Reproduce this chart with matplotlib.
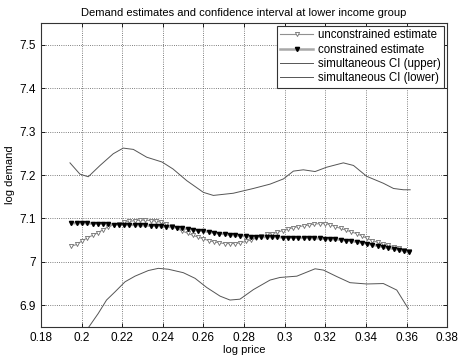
import matplotlib
matplotlib.use("Agg")
import matplotlib.pyplot as plt

plt.rcParams['font.family'] = ['Liberation Sans', 'DejaVu Sans']

# estimate grid
x_est = [0.1950, 0.1976, 0.2002, 0.2028, 0.2054, 0.2080, 0.2106, 0.2132, 0.2158, 0.2184,
         0.2210, 0.2236, 0.2262, 0.2288, 0.2314, 0.2340, 0.2366, 0.2392, 0.2418, 0.2444,
         0.2470, 0.2496, 0.2522, 0.2548, 0.2574, 0.2600, 0.2626, 0.2652, 0.2678, 0.2704,
         0.2730, 0.2756, 0.2782, 0.2808, 0.2834, 0.2860, 0.2886, 0.2912, 0.2938, 0.2964,
         0.2990, 0.3016, 0.3042, 0.3068, 0.3094, 0.3120, 0.3146, 0.3172, 0.3198, 0.3224,
         0.3250, 0.3276, 0.3302, 0.3328, 0.3354, 0.3380, 0.3406, 0.3432, 0.3458, 0.3484,
         0.3510, 0.3536, 0.3562, 0.3588, 0.3614]

unconstrained = [7.036, 7.040, 7.048, 7.055, 7.061, 7.067, 7.074, 7.081, 7.085, 7.088,
                 7.091, 7.093, 7.095, 7.096, 7.096, 7.095, 7.094, 7.091, 7.087, 7.082,
                 7.077, 7.071, 7.066, 7.061, 7.057, 7.053, 7.049, 7.046, 7.044, 7.042,
                 7.042, 7.042, 7.044, 7.047, 7.050, 7.055, 7.059, 7.063, 7.065, 7.068,
                 7.072, 7.075, 7.079, 7.081, 7.083, 7.085, 7.087, 7.088, 7.088, 7.086,
                 7.081, 7.077, 7.073, 7.069, 7.065, 7.060, 7.054, 7.049, 7.045, 7.041,
                 7.038, 7.035, 7.031, 7.028, 7.025]

constrained = [7.089, 7.089, 7.089, 7.089, 7.088, 7.088, 7.088, 7.087, 7.086, 7.086,
               7.085, 7.085, 7.085, 7.084, 7.084, 7.083, 7.083, 7.082, 7.081, 7.080,
               7.079, 7.077, 7.076, 7.074, 7.072, 7.071, 7.069, 7.067, 7.065, 7.064,
               7.062, 7.061, 7.060, 7.059, 7.058, 7.058, 7.057, 7.057, 7.057, 7.057,
               7.056, 7.056, 7.056, 7.055, 7.055, 7.055, 7.054, 7.054, 7.053, 7.052,
               7.052, 7.051, 7.049, 7.048, 7.046, 7.044, 7.042, 7.039, 7.037, 7.034,
               7.032, 7.030, 7.028, 7.025, 7.022]

# confidence bands
x_up = [0.1943, 0.1992, 0.2033, 0.2091, 0.2156, 0.2205, 0.2255, 0.2321, 0.2396, 0.2450,
        0.2518, 0.2600, 0.2649, 0.2747, 0.2846, 0.2928, 0.2994, 0.3043, 0.3092, 0.3150,
        0.3207, 0.3289, 0.3339, 0.3404, 0.3486, 0.3536, 0.3585, 0.3618]
ci_upper = [7.228, 7.202, 7.196, 7.222, 7.249, 7.262, 7.259, 7.241, 7.230, 7.214,
            7.187, 7.160, 7.153, 7.158, 7.169, 7.179, 7.191, 7.209, 7.212, 7.208,
            7.218, 7.228, 7.222, 7.197, 7.181, 7.169, 7.166, 7.166]

x_lo = [0.1950, 0.2000, 0.2033, 0.2082, 0.2123, 0.2165, 0.2214, 0.2263, 0.2329, 0.2378,
        0.2427, 0.2501, 0.2559, 0.2616, 0.2682, 0.2731, 0.2780, 0.2846, 0.2928, 0.2977,
        0.3060, 0.3150, 0.3191, 0.3257, 0.3322, 0.3404, 0.3486, 0.3552, 0.3609]
ci_lower = [6.780, 6.825, 6.848, 6.881, 6.912, 6.931, 6.954, 6.967, 6.980, 6.985,
            6.983, 6.975, 6.962, 6.941, 6.921, 6.912, 6.914, 6.936, 6.958, 6.964,
            6.967, 6.984, 6.981, 6.966, 6.952, 6.949, 6.950, 6.935, 6.892]

xticks = [0.18, 0.2, 0.22, 0.24, 0.26, 0.28, 0.3, 0.32, 0.34, 0.36, 0.38]
yticks = [6.9, 7.0, 7.1, 7.2, 7.3, 7.4, 7.5]

fig = plt.figure(figsize=(4.6, 3.55), dpi=100)
ax = fig.add_axes([0.089, 0.079, 0.883, 0.856])

ax.plot(x_est, unconstrained, color='#909090', lw=0.8, marker='v', ms=3.0,
        mfc='white', mec='#707070', mew=0.6, label='unconstrained estimate')
ax.plot(x_est, constrained, color='#a8a8a8', lw=1.8, marker='v', ms=3.0,
        mfc='black', mec='black', label='constrained estimate')
ax.plot(x_up, ci_upper, color='#555555', lw=0.7, label='simultaneous CI (upper)')
ax.plot(x_lo, ci_lower, color='#555555', lw=0.7, label='simultaneous CI (lower)')

ax.set_xlim(0.18, 0.38)
ax.set_ylim(6.85, 7.55)
ax.set_xticks(xticks)
ax.set_xticklabels(['%g' % v for v in xticks])
ax.set_yticks(yticks)
ax.set_yticklabels(['%g' % v for v in yticks])
ax.tick_params(direction='in', top=True, right=True, labelsize=8.5, length=3, width=0.6)
ax.grid(True, linestyle=':', color='#555555', lw=0.6)
for s in ax.spines.values():
    s.set_linewidth(0.8)
    s.set_color('#333333')

ax.set_xlabel('log price', fontsize=8, labelpad=1)
ax.set_ylabel('log demand', fontsize=8, labelpad=3)
ax.set_title('Demand estimates and confidence interval at lower income group',
             fontsize=8, pad=5)

leg = ax.legend(loc='upper right', fontsize=8.3, fancybox=False, framealpha=1,
                edgecolor='#333333', handlelength=2.9, borderpad=0.3,
                labelspacing=0.2, handletextpad=0.4, borderaxespad=0.25)
leg.get_frame().set_linewidth(0.8)

fig.savefig('out.png', dpi=100)
